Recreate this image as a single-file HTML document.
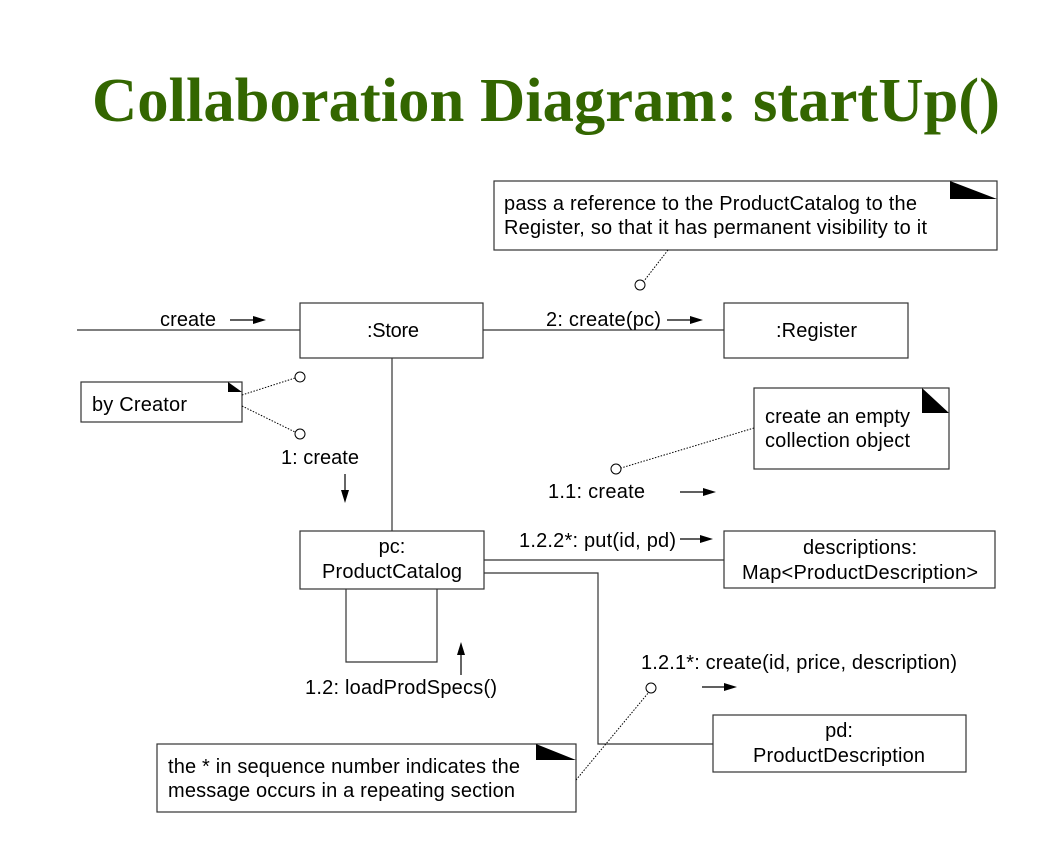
<!DOCTYPE html>
<html><head><meta charset="utf-8"><style>
html,body{margin:0;padding:0;background:#fff;}
svg{display:block;}
text{font-family:"Liberation Sans",sans-serif;font-size:20px;fill:#000;}
</style></head><body>
<svg width="1055" height="842" viewBox="0 0 1055 842" xmlns="http://www.w3.org/2000/svg">
<text x="92" y="121" textLength="908" lengthAdjust="spacingAndGlyphs" style="font-family:'Liberation Serif',serif;font-weight:bold;font-size:62px;fill:#336600">Collaboration Diagram: startUp()</text>
<g fill="none" stroke="#333" stroke-width="1.2">
<line x1="77" y1="330" x2="300" y2="330"/>
<rect x="300" y="303" width="183" height="55" fill="#fff"/>
<line x1="483" y1="330" x2="724" y2="330"/>
<rect x="724" y="303" width="184" height="55" fill="#fff"/>
<line x1="392" y1="358" x2="392" y2="531"/>
<rect x="300" y="531" width="184" height="58" fill="#fff"/>
<polyline points="346,589 346,662 437,662 437,589"/>
<line x1="484" y1="560" x2="724" y2="560"/>
<rect x="724" y="531" width="271" height="57" fill="#fff"/>
<polyline points="484,573 598,573 598,744 713,744"/>
<rect x="713" y="715" width="253" height="57" fill="#fff"/>
<rect x="494" y="181" width="503" height="69" fill="#fff"/>
<rect x="81" y="382" width="161" height="40" fill="#fff"/>
<rect x="754" y="388" width="195" height="81" fill="#fff"/>
<rect x="157" y="744" width="419" height="68" fill="#fff"/>
</g>
<g fill="#000">
<polygon points="950,181 950,199 997,199"/>
<polygon points="228,382 228,392 242,392"/>
<polygon points="922,388 922,413 949,413"/>
<polygon points="536,744 536,760 576,760"/>
</g>
<g fill="none" stroke="#000" stroke-width="1" stroke-dasharray="1.5,1.5">
<line x1="668" y1="250" x2="644" y2="281"/>
<line x1="242" y1="395" x2="295" y2="378"/>
<line x1="242" y1="406" x2="295" y2="432"/>
<line x1="754" y1="428" x2="621" y2="468"/>
<line x1="576" y1="780" x2="649" y2="692"/>
</g>
<g fill="#fff" stroke="#000" stroke-width="1">
<circle cx="640" cy="285" r="5"/>
<circle cx="300" cy="377" r="5"/>
<circle cx="300" cy="434" r="5"/>
<circle cx="616" cy="469" r="5"/>
<circle cx="651" cy="688" r="5"/>
</g>
<g stroke="#000" stroke-width="1.2">
<line x1="230" y1="320" x2="255" y2="320"/><line x1="667" y1="320" x2="692" y2="320"/>
<line x1="680" y1="492" x2="705" y2="492"/><line x1="680" y1="539" x2="702" y2="539"/>
<line x1="702" y1="687" x2="726" y2="687"/>
<line x1="345" y1="474" x2="345" y2="492"/><line x1="461" y1="675" x2="461" y2="653"/>
</g>
<g fill="#000">
<polygon points="253,316 266,320 253,324"/><polygon points="690,316 703,320 690,324"/>
<polygon points="703,488 716,492 703,496"/><polygon points="700,535 713,539 700,543"/>
<polygon points="724,683 737,687 724,691"/>
<polygon points="341,490 345,503 349,490"/><polygon points="457,655 461,642 465,655"/>
</g>
<text x="367" y="337" textLength="52">:Store</text>
<text x="776" y="337" textLength="81">:Register</text>
<text x="392" y="553" text-anchor="middle">pc:</text>
<text x="322" y="578" textLength="140">ProductCatalog</text>
<text x="803" y="554" textLength="114">descriptions:</text>
<text x="742" y="579" textLength="236">Map&lt;ProductDescription&gt;</text>
<text x="839" y="737" text-anchor="middle">pd:</text>
<text x="753" y="762" textLength="172">ProductDescription</text>
<text x="160" y="326" textLength="56">create</text>
<text x="546" y="326" textLength="115">2: create(pc)</text>
<text x="504" y="210" textLength="413">pass a reference to the ProductCatalog to the</text>
<text x="504" y="234" textLength="423">Register, so that it has permanent visibility to it</text>
<text x="92" y="411" textLength="95">by Creator</text>
<text x="281" y="464" textLength="78">1: create</text>
<text x="765" y="423" textLength="145">create an empty</text>
<text x="765" y="447" textLength="145">collection object</text>
<text x="548" y="498" textLength="97">1.1: create</text>
<text x="519" y="547" textLength="157">1.2.2*: put(id, pd)</text>
<text x="305" y="694" textLength="192">1.2: loadProdSpecs()</text>
<text x="641" y="669" textLength="316">1.2.1*: create(id, price, description)</text>
<text x="168" y="773" textLength="352">the * in sequence number indicates the</text>
<text x="168" y="797" textLength="347">message occurs in a repeating section</text>
</svg>
</body></html>
